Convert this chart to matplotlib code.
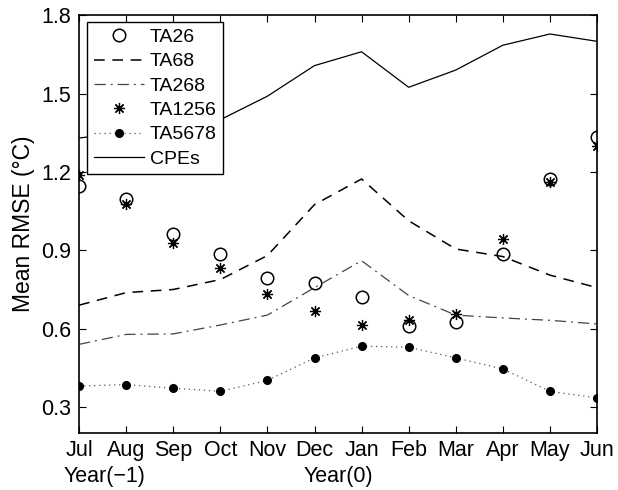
import matplotlib
matplotlib.use("Agg")
import matplotlib.pyplot as plt
import numpy as np

plt.rcParams['font.family'] = ['Liberation Sans', 'DejaVu Sans']

months = ["Jul", "Aug", "Sep", "Oct", "Nov", "Dec", "Jan", "Feb", "Mar", "Apr", "May", "Jun"]
yticks = [0.3, 0.6, 0.9, 1.2, 1.5, 1.8]

ta26 = [1.147, 1.097, 0.963, 0.887, 0.795, 0.773, 0.720, 0.610, 0.627, 0.887, 1.173, 1.333]
ta68 = [0.690, 0.738, 0.750, 0.788, 0.880, 1.075, 1.173, 1.013, 0.905, 0.876, 0.805, 0.757]
ta268 = [0.540, 0.578, 0.580, 0.614, 0.652, 0.757, 0.860, 0.727, 0.652, 0.641, 0.632, 0.618]
ta1256 = [1.190, 1.078, 0.929, 0.832, 0.732, 0.666, 0.614, 0.635, 0.657, 0.942, 1.162, 1.298]
ta5678 = [0.380, 0.386, 0.372, 0.360, 0.402, 0.488, 0.533, 0.529, 0.488, 0.446, 0.360, 0.335]
cpes = [1.330, 1.350, 1.370, 1.400, 1.490, 1.607, 1.660, 1.524, 1.590, 1.685, 1.728, 1.700]

x = np.arange(len(months))
fs = 15.5

fig = plt.figure(figsize=(6.18, 4.90), dpi=100)
ax = fig.add_axes([0.128, 0.116, 0.838, 0.853])

asterisk = (8, 2, 0)

ax.plot(x, ta26, linestyle='none', marker='o', markersize=9, markerfacecolor='none',
        markeredgecolor='black', markeredgewidth=1.1, label='TA26')
ax.plot(x, ta68, color='black', linestyle=(0, (7, 5)), linewidth=1.1, label='TA68')
ax.plot(x, ta268, color='#444444', linestyle=(0, (9, 4, 1.5, 4)), linewidth=0.9, label='TA268')
ax.plot(x, ta1256, linestyle='none', marker=asterisk, markersize=8,
        markeredgecolor='black', markeredgewidth=0.9, color='black', label='TA1256')
ax.plot(x, ta5678, color='#555555', linestyle=(0, (1, 3)), linewidth=0.9, marker='o',
        markersize=5.5, markerfacecolor='black', markeredgecolor='black', label='TA5678')
ax.plot(x, cpes, color='black', linewidth=0.9, label='CPEs')

ax.set_xlim(0, 11)
ax.set_ylim(0.2, 1.8)
ax.set_xticks(x)
ax.set_xticklabels(months)
ax.set_yticks(yticks)
ax.set_yticklabels([f"{v:.1f}" for v in yticks])

ax.tick_params(direction='in', top=True, right=True, length=5, width=0.8,
               labelsize=fs)
ax.tick_params(axis='x', pad=5)
ax.tick_params(axis='y', pad=6)
for s in ax.spines.values():
    s.set_linewidth(1.2)

ax.set_ylabel("Mean RMSE (°C)", fontsize=16.5, labelpad=4)

ax.text(0.55, -0.078, "Year(−1)", transform=ax.get_xaxis_transform(),
        ha='center', va='top', fontsize=fs)
ax.text(5.5, -0.078, "Year(0)", transform=ax.get_xaxis_transform(),
        ha='center', va='top', fontsize=fs)

leg = ax.legend(loc='upper left', bbox_to_anchor=(0.016, 0.983), fontsize=14,
                frameon=True, fancybox=False, edgecolor='black', framealpha=1,
                handlelength=2.6, handletextpad=0.3, labelspacing=0.345,
                borderpad=0.32, borderaxespad=0)
leg.get_frame().set_linewidth(1.0)
leg.set_zorder(5)

fig.savefig("out.png", dpi=100)
